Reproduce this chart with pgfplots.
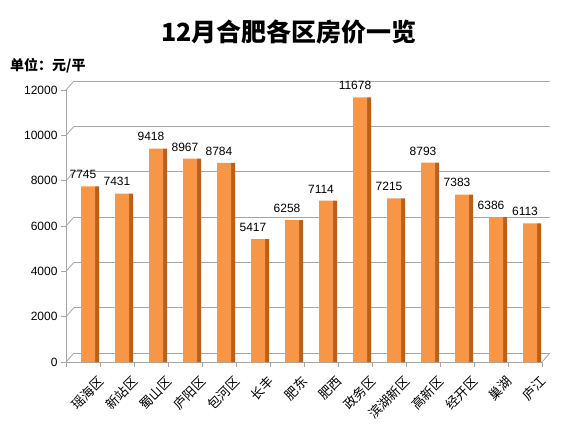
\documentclass[border=0pt]{standalone}
\usepackage{pgfplots}
\pgfplotsset{compat=1.18}
\usepackage{fontspec}
\setmainfont{Liberation Sans}
\newfontfamily\cjk{Noto Sans CJK SC}
\definecolor{barfront}{HTML}{F79646}
\definecolor{barside}{HTML}{B8601C}
\definecolor{gridc}{HTML}{A6A6A6}
\begin{document}
\begin{tikzpicture}
\path[use as bounding box] (0,0) rectangle (580pt,436pt);
\node[font=\cjk\bfseries\fontsize{25}{28}\selectfont, anchor=center] at (289pt,404pt) {12月合肥各区房价一览};
\node[font=\cjk\bfseries\fontsize{14}{16}\selectfont, anchor=west, inner sep=0pt] at (10pt,370pt) {单位：元/平};
\begin{axis}[
  at={(66pt,74pt)}, anchor=south west, scale only axis,
  width=476pt, height=272pt,
  xmin=-0.5, xmax=13.5, ymin=0, ymax=12000,
  axis x line*=bottom, axis y line*=left,
  axis line style={gridc, line width=0.8pt},
  ytick={0,2000,...,12000},
  scaled y ticks=false,
  ymajorgrids,
  major grid style={gridc, line width=0.8pt, xshift=8pt, yshift=9pt},
  /pgf/number format/1000 sep={},
  /pgf/number format/assume math mode=true,
  y tick label style={font=\fontsize{12}{14}\selectfont},
  tick style={gridc, line width=0.8pt},
  tick align=outside, major tick length=5pt,
  xtick={-0.5,0.5,...,13.5},
  xticklabels={},
  extra x ticks={0,...,13},
  extra x tick labels={瑶海区,新站区,蜀山区,庐阳区,包河区,长丰,肥东,肥西,政务区,滨湖新区,高新区,经开区,巢湖,庐江},
  extra x tick style={major tick length=0pt, tick style={draw=none},
    tick label style={font=\cjk\fontsize{13}{15}\selectfont, rotate=45, anchor=north east, inner sep=0pt, yshift=-19pt, xshift=1pt}},
  clip=false,
]
\pgfplotsinvokeforeach{0,2000,...,12000}{\draw[gridc, line width=0.8pt] (axis cs:-0.5,#1) -- ++(8pt,9pt);}
\draw[gridc, line width=0.8pt] (axis cs:13.5,0) -- ++(8pt,9pt);
\addplot[ybar, bar width=4pt, bar shift=14pt, fill=barside, draw=none] coordinates {
(0,7745) (1,7431) (2,9418) (3,8967) (4,8784) (5,5417) (6,6258)
(7,7114) (8,11678) (9,7215) (10,8793) (11,7383) (12,6386) (13,6113)};
\addplot[ybar, bar width=14pt, bar shift=5pt, fill=barfront, draw=none,
  nodes near coords, nodes near coords style={font=\fontsize{12}{14}\selectfont, text=black, yshift=4pt}] coordinates {
(0,7745) (1,7431) (2,9418) (3,8967) (4,8784) (5,5417) (6,6258)
(7,7114) (8,11678) (9,7215) (10,8793) (11,7383) (12,6386) (13,6113)};
\end{axis}
\end{tikzpicture}
\end{document}
